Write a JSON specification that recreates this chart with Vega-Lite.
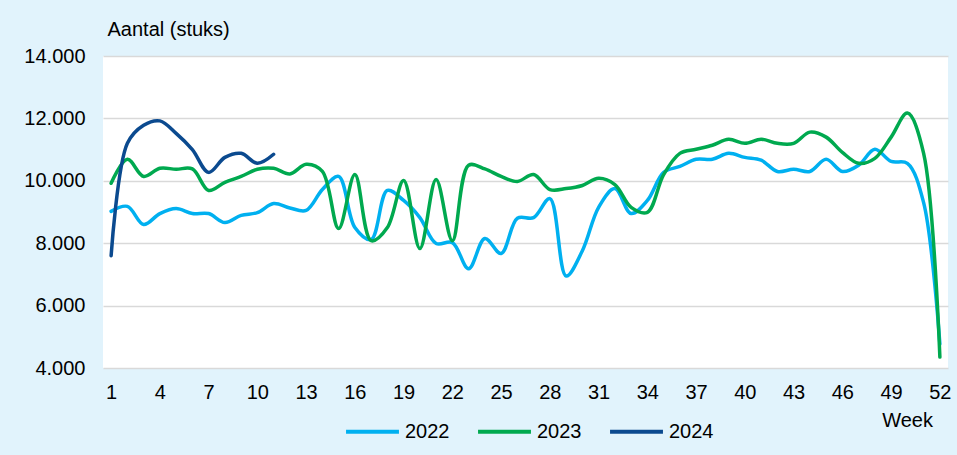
{
  "$schema": "https://vega.github.io/schema/vega-lite/v6.json",
  "autosize": "none",
  "width": 845,
  "height": 312,
  "padding": {"left": 103, "top": 56, "right": 9, "bottom": 87},
  "background": "#E1F3FC",
  "config": {
    "view": {"fill": "white", "stroke": null},
    "font": "Liberation Sans",
    "axis": {"labelFont": "Liberation Sans", "titleFont": "Liberation Sans", "labelColor": "#000000", "titleColor": "#000000", "labelFontSize": 20, "titleFontSize": 20, "titleFontWeight": "normal"},
    "legend": {"labelFont": "Liberation Sans", "labelFontSize": 20, "labelColor": "#000000"}
  },
  "data": {
    "values": [
      {"week": 1, "year": "2022", "value": 9020}, {"week": 2, "year": "2022", "value": 9180}, {"week": 3, "year": "2022", "value": 8600}, {"week": 4, "year": "2022", "value": 8950}, {"week": 5, "year": "2022", "value": 9110}, {"week": 6, "year": "2022", "value": 8950}, {"week": 7, "year": "2022", "value": 8950}, {"week": 8, "year": "2022", "value": 8660}, {"week": 9, "year": "2022", "value": 8890}, {"week": 10, "year": "2022", "value": 8980}, {"week": 11, "year": "2022", "value": 9270}, {"week": 12, "year": "2022", "value": 9130}, {"week": 13, "year": "2022", "value": 9050}, {"week": 14, "year": "2022", "value": 9720}, {"week": 15, "year": "2022", "value": 10140}, {"week": 16, "year": "2022", "value": 8500}, {"week": 17, "year": "2022", "value": 8120}, {"week": 18, "year": "2022", "value": 9690}, {"week": 19, "year": "2022", "value": 9370}, {"week": 20, "year": "2022", "value": 8820}, {"week": 21, "year": "2022", "value": 7990}, {"week": 22, "year": "2022", "value": 8020}, {"week": 23, "year": "2022", "value": 7180}, {"week": 24, "year": "2022", "value": 8150}, {"week": 25, "year": "2022", "value": 7670}, {"week": 26, "year": "2022", "value": 8800}, {"week": 27, "year": "2022", "value": 8820}, {"week": 28, "year": "2022", "value": 9430}, {"week": 29, "year": "2022", "value": 6950}, {"week": 30, "year": "2022", "value": 7760}, {"week": 31, "year": "2022", "value": 9150}, {"week": 32, "year": "2022", "value": 9750}, {"week": 33, "year": "2022", "value": 8950}, {"week": 34, "year": "2022", "value": 9370}, {"week": 35, "year": "2022", "value": 10270}, {"week": 36, "year": "2022", "value": 10460}, {"week": 37, "year": "2022", "value": 10690}, {"week": 38, "year": "2022", "value": 10690}, {"week": 39, "year": "2022", "value": 10880}, {"week": 40, "year": "2022", "value": 10750}, {"week": 41, "year": "2022", "value": 10660}, {"week": 42, "year": "2022", "value": 10300}, {"week": 43, "year": "2022", "value": 10370}, {"week": 44, "year": "2022", "value": 10300}, {"week": 45, "year": "2022", "value": 10690}, {"week": 46, "year": "2022", "value": 10300}, {"week": 47, "year": "2022", "value": 10500}, {"week": 48, "year": "2022", "value": 11010}, {"week": 49, "year": "2022", "value": 10620}, {"week": 50, "year": "2022", "value": 10560}, {"week": 51, "year": "2022", "value": 9300}, {"week": 52, "year": "2022", "value": 4770},
      {"week": 1, "year": "2023", "value": 9920}, {"week": 2, "year": "2023", "value": 10690}, {"week": 3, "year": "2023", "value": 10140}, {"week": 4, "year": "2023", "value": 10400}, {"week": 5, "year": "2023", "value": 10370}, {"week": 6, "year": "2023", "value": 10380}, {"week": 7, "year": "2023", "value": 9690}, {"week": 8, "year": "2023", "value": 9950}, {"week": 9, "year": "2023", "value": 10140}, {"week": 10, "year": "2023", "value": 10370}, {"week": 11, "year": "2023", "value": 10400}, {"week": 12, "year": "2023", "value": 10220}, {"week": 13, "year": "2023", "value": 10530}, {"week": 14, "year": "2023", "value": 10300}, {"week": 15, "year": "2023", "value": 8470}, {"week": 16, "year": "2023", "value": 10200}, {"week": 17, "year": "2023", "value": 8080}, {"week": 18, "year": "2023", "value": 8500}, {"week": 19, "year": "2023", "value": 10010}, {"week": 20, "year": "2023", "value": 7830}, {"week": 21, "year": "2023", "value": 10040}, {"week": 22, "year": "2023", "value": 8080}, {"week": 23, "year": "2023", "value": 10500}, {"week": 24, "year": "2023", "value": 10380}, {"week": 25, "year": "2023", "value": 10140}, {"week": 26, "year": "2023", "value": 9980}, {"week": 27, "year": "2023", "value": 10200}, {"week": 28, "year": "2023", "value": 9720}, {"week": 29, "year": "2023", "value": 9750}, {"week": 30, "year": "2023", "value": 9850}, {"week": 31, "year": "2023", "value": 10080}, {"week": 32, "year": "2023", "value": 9880}, {"week": 33, "year": "2023", "value": 9150}, {"week": 34, "year": "2023", "value": 8990}, {"week": 35, "year": "2023", "value": 10200}, {"week": 36, "year": "2023", "value": 10880}, {"week": 37, "year": "2023", "value": 11010}, {"week": 38, "year": "2023", "value": 11140}, {"week": 39, "year": "2023", "value": 11330}, {"week": 40, "year": "2023", "value": 11200}, {"week": 41, "year": "2023", "value": 11330}, {"week": 42, "year": "2023", "value": 11200}, {"week": 43, "year": "2023", "value": 11200}, {"week": 44, "year": "2023", "value": 11560}, {"week": 45, "year": "2023", "value": 11400}, {"week": 46, "year": "2023", "value": 10910}, {"week": 47, "year": "2023", "value": 10560}, {"week": 48, "year": "2023", "value": 10720}, {"week": 49, "year": "2023", "value": 11400}, {"week": 50, "year": "2023", "value": 12170}, {"week": 51, "year": "2023", "value": 10880}, {"week": 52, "year": "2023", "value": 4350},
      {"week": 1, "year": "2024", "value": 7600}, {"week": 2, "year": "2024", "value": 11200}, {"week": 3, "year": "2024", "value": 11780}, {"week": 4, "year": "2024", "value": 11920}, {"week": 5, "year": "2024", "value": 11520}, {"week": 6, "year": "2024", "value": 11000}, {"week": 7, "year": "2024", "value": 10270}, {"week": 8, "year": "2024", "value": 10750}, {"week": 9, "year": "2024", "value": 10880}, {"week": 10, "year": "2024", "value": 10560}, {"week": 11, "year": "2024", "value": 10850}
    ]
  },
  "mark": {"type": "line", "interpolate": "catmull-rom", "strokeWidth": 3.5, "strokeCap": "round", "clip": false},
  "encoding": {
    "x": {
      "field": "week", "type": "quantitative",
      "scale": {"domain": [0.5, 52.5], "nice": false, "zero": false},
      "axis": {
        "values": [1, 4, 7, 10, 13, 16, 19, 22, 25, 28, 31, 34, 37, 40, 43, 46, 49, 52],
        "grid": false, "ticks": false, "domain": false, "labelPadding": 14, "labelFlush": false,
        "title": "Week", "titleX": 804, "titleY": 58, "titleAlign": "center", "titleBaseline": "alphabetic"
      }
    },
    "y": {
      "field": "value", "type": "quantitative",
      "scale": {"domain": [4000, 14000], "nice": false, "zero": false},
      "axis": {
        "values": [4000, 6000, 8000, 10000, 12000, 14000],
        "labelExpr": "replace(format(datum.value, ',.0f'), ',', '.')",
        "grid": true, "gridColor": "#D9D9D9", "gridWidth": 1.5, "ticks": false, "domain": false, "labelPadding": 18,
        "title": "Aantal (stuks)", "titleAngle": 0, "titleX": 4, "titleY": -21, "titleAlign": "left", "titleBaseline": "alphabetic"
      }
    },
    "color": {
      "field": "year", "type": "nominal",
      "scale": {"domain": ["2022", "2023", "2024"], "range": ["#00B0F0", "#00A94F", "#0B4A8F"]},
      "legend": {
        "title": null, "orient": "none", "direction": "horizontal", "columns": 3,
        "legendX": 241, "legendY": 347, "symbolType": "stroke", "symbolSize": 2800, "symbolStrokeWidth": 4,
        "labelOffset": 4, "columnPadding": 20
      }
    }
  }
}
